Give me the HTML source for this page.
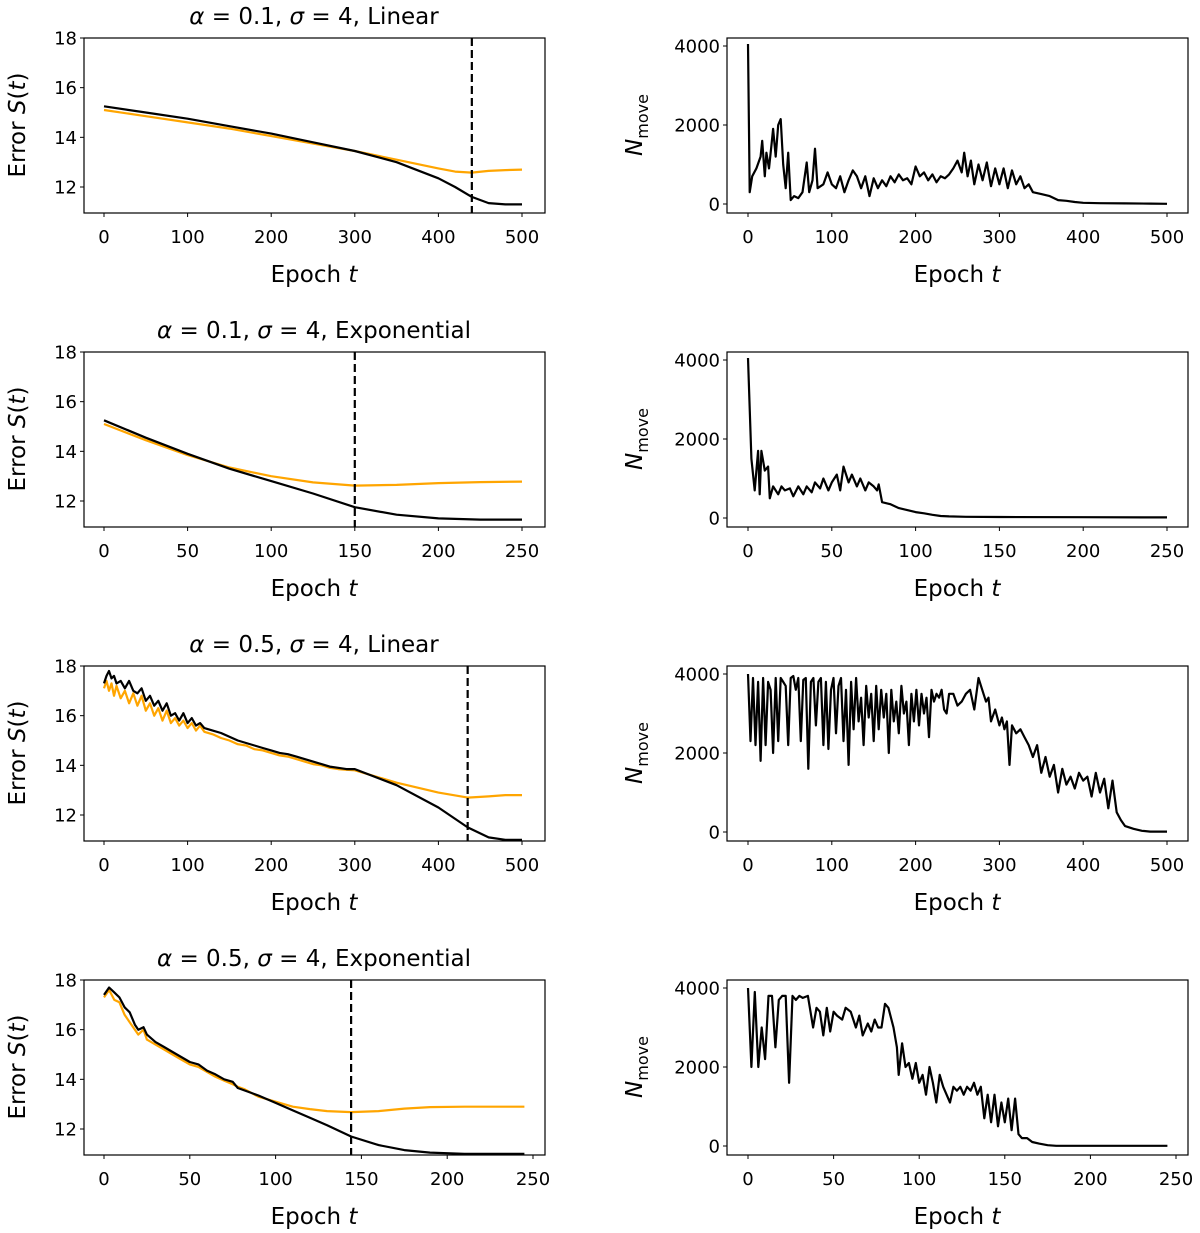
<!DOCTYPE html>
<html><head><meta charset="utf-8"><style>
body{margin:0;background:#fff}
svg{display:block}
text{font-family:"DejaVu Sans","Liberation Sans",sans-serif;fill:#000}
</style></head><body>
<svg id="fig" width="1200" height="1233" viewBox="0 0 1200 1233" xmlns="http://www.w3.org/2000/svg"></svg>
<script>
// ---- Row 1: alpha=0.1 Linear ----
const r1T=[0,50,100,150,200,250,300,350,400,420,440,460,480,500];
const r1Black=[15.25,15.0,14.75,14.45,14.15,13.8,13.45,13.0,12.35,12.0,11.6,11.35,11.3,11.3];
const r1Orange=[15.1,14.85,14.6,14.35,14.05,13.75,13.45,13.1,12.75,12.62,12.58,12.65,12.68,12.7];
const r1V=440;
const r1NT=[0,2,5,10,15,17,20,22,25,28,30,33,36,39,42,45,48,51,55,60,65,70,73,77,80,83,90,95,100,105,110,115,120,125,130,135,140,145,150,155,160,165,170,175,180,185,190,195,200,205,210,215,220,225,230,235,240,245,250,255,258,262,266,270,275,280,285,290,295,300,305,310,315,320,325,330,335,340,350,360,370,380,390,400,420,450,480,500];
const r1N=[4050,300,700,900,1200,1600,700,1300,900,1500,1900,1200,2000,2150,1000,400,1300,100,200,150,300,1050,300,600,1400,400,500,800,500,400,700,300,600,850,700,400,700,200,650,400,600,450,700,550,750,600,650,500,950,700,800,600,750,550,700,650,750,900,1100,800,1300,700,1100,500,1000,600,1050,450,900,500,900,400,850,500,700,400,500,300,250,200,100,80,50,30,20,15,10,5];
// ---- Row 2: alpha=0.1 Exponential ----
const r2T=[0,25,50,75,100,125,150,175,200,225,250];
const r2Black=[15.25,14.55,13.9,13.3,12.8,12.3,11.75,11.45,11.3,11.25,11.25];
const r2Orange=[15.1,14.45,13.85,13.35,13.0,12.75,12.62,12.65,12.72,12.76,12.78];
const r2V=150;
const r2NT=[0,2,4,6,7,8,10,12,13,15,18,20,22,25,27,30,33,35,38,40,43,45,48,50,53,55,57,60,62,65,67,70,72,75,77,78,80,85,90,95,100,105,110,115,120,130,150,200,250];
const r2N=[4050,1500,700,1700,600,1700,1200,1300,500,800,600,800,700,750,550,800,600,800,650,900,750,1000,700,900,1100,700,1300,900,1100,800,1000,700,900,800,700,850,400,350,250,200,150,120,80,50,40,30,25,20,15];
// ---- Row 3: alpha=0.5 Linear ----
const r3T=[0,3,6,9,12,15,20,25,30,35,40,45,50,55,60,65,70,75,80,85,90,95,100,105,110,115,120,130,140,150,160,170,180,190,200,210,220,230,240,250,260,270,280,290,300,350,400,435,460,480,500];
const r3Black=[17.3,17.6,17.8,17.5,17.6,17.3,17.4,17.1,17.4,17.0,16.9,17.1,16.6,16.8,16.4,16.6,16.2,16.5,16.0,16.1,15.8,16.1,15.7,15.9,15.6,15.7,15.5,15.4,15.3,15.15,15.0,14.9,14.8,14.7,14.6,14.5,14.45,14.35,14.25,14.15,14.05,13.95,13.9,13.85,13.85,13.2,12.3,11.5,11.1,11.0,11.0];
const r3Orange=[17.1,17.4,17.0,17.3,16.8,17.2,16.7,17.0,16.5,16.9,16.4,16.8,16.2,16.5,16.0,16.3,15.8,16.2,15.7,15.9,15.6,15.8,15.5,15.7,15.4,15.6,15.35,15.25,15.1,15.0,14.85,14.8,14.65,14.6,14.5,14.4,14.35,14.25,14.15,14.05,14.0,13.9,13.85,13.82,13.8,13.3,12.9,12.7,12.75,12.8,12.8];
const r3V=435;
const r3NT=[0,3,6,9,12,15,18,21,24,27,30,33,36,39,42,45,48,51,54,57,60,63,66,69,72,75,78,81,84,87,90,93,96,99,102,105,108,111,114,117,120,123,126,129,132,135,138,141,144,147,150,153,156,159,162,165,168,171,174,177,180,183,186,189,192,195,198,201,204,207,210,213,216,219,222,225,228,231,234,237,240,245,250,255,260,265,270,275,278,281,284,287,290,295,300,303,306,309,312,315,320,325,330,335,340,345,350,355,360,365,370,375,380,385,390,395,400,405,410,415,420,425,430,435,440,445,450,460,470,480,500];
const r3N=[4000,2300,3900,2200,3800,1800,3900,2200,3800,3600,2000,3900,2300,3900,3800,3700,2200,3900,3950,3600,3900,2300,3850,3900,1600,3800,3900,2700,3800,3900,2200,3800,2100,3600,3900,2500,3700,3900,2300,3600,1700,3800,2600,3900,2800,3400,2200,3700,2900,3500,2300,3700,2600,3600,2900,3500,2000,3600,2800,3300,2500,3700,3000,3300,2200,3500,2800,3600,2700,3500,3000,3400,2400,3600,3300,3500,3400,3600,3100,3000,3500,3500,3200,3300,3500,3600,3100,3900,3700,3500,3300,3400,2800,3100,2700,2900,2600,2800,1700,2700,2500,2600,2400,2200,1900,2200,1500,1900,1400,1700,1000,1600,1200,1400,1100,1500,1300,1400,900,1500,1000,1350,600,1300,500,300,150,80,30,10,10];
// ---- Row 4: alpha=0.5 Exponential ----
const r4T=[0,3,6,9,12,15,18,20,23,25,30,35,40,45,50,55,60,65,70,75,78,82,90,100,110,120,130,144,160,175,190,210,245];
const r4Black=[17.4,17.7,17.5,17.3,16.9,16.7,16.2,16.0,16.1,15.8,15.5,15.3,15.1,14.9,14.7,14.6,14.35,14.2,14.0,13.9,13.65,13.55,13.35,13.05,12.75,12.45,12.15,11.7,11.35,11.15,11.05,11.0,11.0];
const r4Orange=[17.3,17.6,17.2,17.1,16.6,16.3,16.0,15.8,16.0,15.6,15.4,15.2,15.0,14.8,14.6,14.5,14.3,14.1,13.95,13.8,13.7,13.6,13.3,13.1,12.9,12.8,12.72,12.68,12.72,12.82,12.88,12.9,12.9];
const r4V=144;
const r4NT=[0,2,4,6,8,10,12,14,16,18,20,22,24,26,28,30,32,35,38,40,42,44,46,48,50,52,55,57,60,63,65,67,70,72,74,76,78,80,82,85,87,88,90,92,94,96,98,100,102,104,106,108,110,112,114,116,118,120,122,124,126,128,130,132,134,136,138,140,142,144,146,148,150,152,154,156,158,160,163,166,170,175,180,245];
const r4N=[4000,2000,3900,2000,3000,2200,3800,3800,2500,3700,3800,3800,1600,3800,3700,3800,3750,3800,3000,3500,3400,2800,3500,2900,3400,3300,3200,3500,3400,3000,3300,2800,3100,2900,3200,3000,3000,3600,3500,3000,2500,1800,2600,2000,2100,1700,2100,1600,1800,1300,2000,1600,1100,1800,1500,1300,1100,1500,1400,1500,1300,1500,1400,1600,1300,1500,700,1300,600,1300,500,1100,600,1200,400,1200,300,200,200,100,60,20,5,5];

const leftTicks=[12,14,16,18];
const rightTicks=[0,2000,4000];
const xTicks500=[0,100,200,300,400,500];
const xTicks250=[0,50,100,150,200,250];

const rows=[
 {title:'Linear',alpha:'0.1',T:r1T,B:r1Black,O:r1Orange,V:r1V,NT:r1NT,N:r1N,ticks:xTicks500,lx:[0,500,104,522],rx:[0,500,748,1167]},
 {title:'Exponential',alpha:'0.1',T:r2T,B:r2Black,O:r2Orange,V:r2V,NT:r2NT,N:r2N,ticks:xTicks250,lx:[0,250,104,522],rx:[0,250,748,1167]},
 {title:'Linear',alpha:'0.5',T:r3T,B:r3Black,O:r3Orange,V:r3V,NT:r3NT,N:r3N,ticks:xTicks500,lx:[0,500,104,522],rx:[0,500,748,1167]},
 {title:'Exponential',alpha:'0.5',T:r4T,B:r4Black,O:r4Orange,V:r4V,NT:r4NT,N:r4N,ticks:xTicks250,lx:[0,250,104,533],rx:[0,250,748,1176]}
];
const NS='http://www.w3.org/2000/svg';
const svg=document.getElementById('fig');
function mk(tag,attrs,parent,txt){const e=document.createElementNS(NS,tag);for(const k in attrs)e.setAttribute(k,attrs[k]);if(txt!==undefined)e.textContent=txt;(parent||svg).appendChild(e);return e;}
function lin(d0,d1,p0,p1){return v=>p0+(v-d0)*(p1-p0)/(d1-d0);}
function path(xs,ys,fx,fy){return xs.map((x,i)=>(i?'L':'M')+fx(x).toFixed(1)+','+fy(ys[i]).toFixed(1)).join('');}

rows.forEach((r,i)=>{
  const top=38+314*i, bot=213+314*i;
  // left panel
  const gL=mk('g',{});
  
  
  const fx=lin(r.lx[0],r.lx[1],r.lx[2],r.lx[3]);
  const fy=lin(12,18,top+149,top);
  const L=84,R=545;
  const ttl=mk('text',{x:314,y:top-14,'text-anchor':'middle','font-size':23},gL);
  
  
  ttl.innerHTML='<tspan font-style="italic">α</tspan> = '+r.alpha+', <tspan font-style="italic">σ</tspan> = 4, '+r.title;
  const cp=mk('clipPath',{id:'cl'+i},gL);mk('rect',{x:L,y:top,width:R-L,height:bot-top},cp);
  const pg=mk('g',{'clip-path':'url(#cl'+i+')'},gL);
  const ob=mk('path',{d:path(r.T,r.O,fx,fy),fill:'none',stroke:'#ffa500','stroke-width':2.2,'stroke-linejoin':'round'},pg);
  
  
  const bl=mk('path',{d:path(r.T,r.B,fx,fy),fill:'none',stroke:'#000','stroke-width':2.2,'stroke-linejoin':'round'},pg);
  
  
  // redraw orange on top only where noisy (keeps look): orange below black visually in ref
  const vl=mk('line',{x1:fx(r.V),x2:fx(r.V),y1:top,y2:bot,stroke:'#000','stroke-width':2.2,'stroke-dasharray':'8,4'},pg);
  
  
  const fr=mk('rect',{x:L,y:top,width:R-L,height:bot-top,fill:'none',stroke:'#000','stroke-width':1.2},gL);
  
  
  leftTicks.forEach(t=>{const y=fy(t);mk('line',{x1:L-4,x2:L,y1:y,y2:y,stroke:'#000'},gL);
    const tl=mk('text',{x:L-7,y:y+6.5,'text-anchor':'end','font-size':18},gL,String(t));
    
    });
  r.ticks.forEach(t=>{const x=fx(t);mk('line',{x1:x,x2:x,y1:bot,y2:bot+4,stroke:'#000'},gL);
    const tl=mk('text',{x:x,y:bot+30,'text-anchor':'middle','font-size':18},gL,String(t));
    
    });
  const xl=mk('text',{x:314,y:bot+69,'text-anchor':'middle','font-size':23},gL);
  xl.innerHTML='Epoch <tspan font-style="italic">t</tspan>';
  
  
  const yl=mk('text',{x:0,y:0,'text-anchor':'middle','font-size':23,transform:'translate(25,'+(top+87)+') rotate(-90)'},gL);
  yl.innerHTML='Error <tspan font-style="italic">S</tspan>(<tspan font-style="italic">t</tspan>)';
  
  

  // right panel
  const gR=mk('g',{});
  
  
  const gx=lin(r.rx[0],r.rx[1],r.rx[2],r.rx[3]);
  const gy=lin(0,4000,top+166,top+8);
  const L2=727,R2=1188;
  const nl=mk('path',{d:path(r.NT,r.N,gx,gy),fill:'none',stroke:'#000','stroke-width':2.2,'stroke-linejoin':'round'},gR);
  
  
  const fr2=mk('rect',{x:L2,y:top,width:R2-L2,height:bot-top,fill:'none',stroke:'#000','stroke-width':1.2},gR);
  
  
  rightTicks.forEach(t=>{const y=gy(t);mk('line',{x1:L2-4,x2:L2,y1:y,y2:y,stroke:'#000'},gR);
    const tl=mk('text',{x:L2-7,y:y+6.5,'text-anchor':'end','font-size':18},gR,String(t));
    
    });
  r.ticks.forEach(t=>{const x=gx(t);mk('line',{x1:x,x2:x,y1:bot,y2:bot+4,stroke:'#000'},gR);
    const tl=mk('text',{x:x,y:bot+30,'text-anchor':'middle','font-size':18},gR,String(t));
    
    });
  const xl2=mk('text',{x:957,y:bot+69,'text-anchor':'middle','font-size':23},gR);
  xl2.innerHTML='Epoch <tspan font-style="italic">t</tspan>';
  
  
  const yl2=mk('text',{x:0,y:0,'text-anchor':'middle','font-size':23,transform:'translate(642,'+(top+87)+') rotate(-90)'},gR);
  yl2.innerHTML='<tspan font-style="italic">N</tspan><tspan font-size="16" dy="6">move</tspan>';
  
  
});
</script>
</body></html>
